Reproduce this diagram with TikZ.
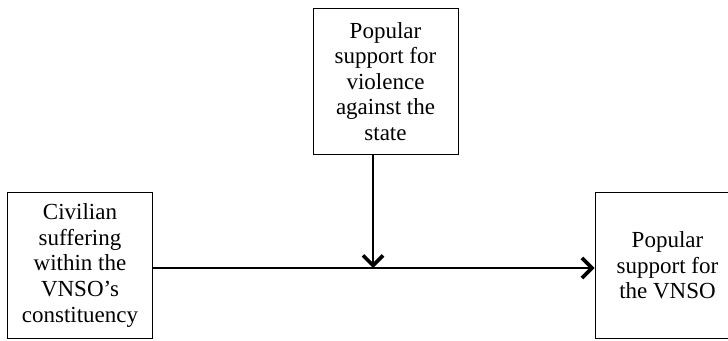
\documentclass[tikz,border=0pt]{standalone}
\usepackage{fontspec}
\setmainfont{Liberation Serif}
\usetikzlibrary{arrows.meta}

\begin{document}
\begin{tikzpicture}[x=0.5pt,y=-0.5pt,
  box/.style={draw,line width=.5pt,align=center,inner sep=0pt,
    minimum width=72.5pt,minimum height=73pt,font=\fontsize{11.5}{12.8}\selectfont},
  link/.style={line width=.9pt,-{Straight Barb[length=5pt,width=10pt,line width=1.8pt]}}]
\useasboundingbox (0,0) rectangle (728,341);
\clip (0,0) rectangle (728,341);
\node[box] (suffer) at (80,265.5) {Civilian\\suffering\\within the\\VNSO's\\constituency};
\node[box] (violence) at (385.5,81.5) {Popular\\support for\\violence\\against the\\state};
\node[box] (vnso) at (667.5,265.5) {Popular\\support for\\the VNSO};
\coordinate (meet) at (373,268);
\draw[link] (suffer.east |- meet) -- (vnso.west |- meet);
\draw[link] (meet |- violence.south) -- (meet);
\end{tikzpicture}
\end{document}
